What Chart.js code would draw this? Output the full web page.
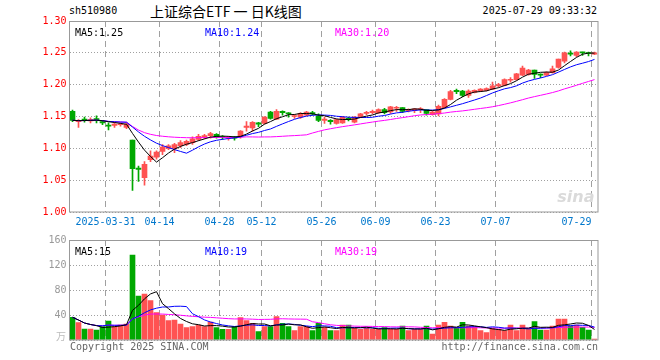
<!DOCTYPE html>
<html>
<head>
<meta charset="utf-8">
<script src="https://cdn.jsdelivr.net/npm/chart.js@4.4.1/dist/chart.umd.min.js"></script>
<style>
  body { margin: 0; background: #fff; width: 660px; height: 360px; overflow: hidden; position: relative; font-family: "DejaVu Sans Mono", monospace; }
  #kc { position: absolute; left: 0; top: 0; }
  #vc { position: absolute; left: 0; top: 230px; }
  .t { position: absolute; white-space: nowrap; color: #000; }
</style>
</head>
<body>
<div class="t" style="left:69px;top:5px;font-size:10px">sh510980</div>
<div class="t" style="left:150px;top:1px;font:14px 'Noto Sans CJK SC'">上证综合ETF 一 日K线图</div>
<div class="t" style="right:63px;top:5px;font-size:10px">2025-07-29 09:33:32</div>
<canvas id="kc" width="660" height="236"></canvas>
<canvas id="vc" width="660" height="130"></canvas>
<script>
const year = '2025'
const dates = [
  '03-21','03-24','03-25','03-26','03-27','03-28','03-31',
  '04-01','04-02','04-03','04-07','04-08','04-09','04-10','04-11',
  '04-14','04-15','04-16','04-17','04-18','04-21','04-22','04-23','04-24','04-25',
  '04-28','04-29','04-30',
  '05-06','05-07','05-08','05-09','05-12','05-13','05-14','05-15','05-16',
  '05-19','05-20','05-21','05-22','05-23','05-26','05-27','05-28','05-29','05-30',
  '06-03','06-04','06-05','06-06','06-09','06-10','06-11','06-12','06-13',
  '06-16','06-17','06-18','06-19','06-20','06-23','06-24','06-25','06-26','06-27','06-30',
  '07-01','07-02','07-03','07-04','07-07','07-08','07-09','07-10','07-11',
  '07-14','07-15','07-16','07-17','07-18','07-21','07-22','07-23','07-24','07-25',
  '07-28','07-29'
]
const tickDates = ['03-31','04-14','04-28','05-12','05-26','06-09','06-23','07-07','07-29']

const opens = [
  1.158,1.142,1.146,1.143,1.146,1.142,1.136,1.136,1.137,1.133,
  1.113,1.069,1.054,1.082,1.086,1.095,1.100,1.100,1.104,1.106,
  1.109,1.114,1.118,1.120,1.122,1.118,1.116,1.117,1.119,1.133,
  1.132,1.140,1.139,1.157,1.146,1.158,1.155,1.150,1.149,1.152,
  1.156,1.151,1.144,1.144,1.139,1.140,1.147,1.141,1.150,1.155,
  1.156,1.156,1.161,1.157,1.163,1.164,1.159,1.159,1.161,1.161,
  1.153,1.154,1.164,1.177,1.191,1.190,1.183,1.188,1.190,1.191,
  1.193,1.198,1.199,1.207,1.208,1.215,1.216,1.223,1.216,1.215,
  1.219,1.227,1.237,1.249,1.246,1.251,1.250,1.248
]
const highs = [
  1.160,1.145,1.149,1.148,1.151,1.144,1.140,1.141,1.140,1.140,
  1.113,1.072,1.079,1.096,1.096,1.106,1.106,1.108,1.112,1.113,
  1.118,1.122,1.122,1.125,1.123,1.120,1.119,1.119,1.128,1.142,
  1.142,1.141,1.150,1.158,1.161,1.159,1.156,1.153,1.156,1.158,
  1.158,1.154,1.149,1.145,1.146,1.150,1.149,1.150,1.155,1.158,
  1.160,1.162,1.163,1.166,1.166,1.164,1.162,1.163,1.164,1.161,
  1.158,1.168,1.178,1.191,1.193,1.191,1.192,1.192,1.194,1.195,
  1.204,1.202,1.209,1.211,1.218,1.229,1.224,1.223,1.217,1.220,
  1.229,1.240,1.251,1.253,1.252,1.251,1.251,1.251
]
const lows = [
  1.142,1.133,1.141,1.140,1.140,1.137,1.129,1.133,1.135,1.131,
  1.034,1.048,1.042,1.079,1.083,1.090,1.098,1.093,1.101,1.104,
  1.106,1.112,1.115,1.116,1.116,1.114,1.113,1.113,1.116,1.127,
  1.127,1.134,1.138,1.146,1.145,1.152,1.149,1.147,1.147,1.151,
  1.152,1.142,1.139,1.138,1.138,1.139,1.143,1.140,1.148,1.153,
  1.154,1.155,1.154,1.155,1.158,1.156,1.157,1.156,1.156,1.152,
  1.152,1.151,1.163,1.176,1.186,1.181,1.180,1.187,1.189,1.190,
  1.192,1.196,1.198,1.204,1.207,1.214,1.215,1.210,1.211,1.214,
  1.218,1.226,1.234,1.245,1.244,1.246,1.245,1.247
]
const closes = [
  1.144,1.143,1.144,1.145,1.145,1.140,1.135,1.138,1.138,1.138,
  1.068,1.067,1.075,1.088,1.094,1.102,1.104,1.106,1.109,1.111,
  1.115,1.119,1.120,1.123,1.117,1.117,1.117,1.116,1.127,1.135,
  1.141,1.138,1.149,1.147,1.158,1.156,1.154,1.151,1.155,1.157,
  1.154,1.144,1.146,1.142,1.145,1.149,1.145,1.149,1.154,1.156,
  1.158,1.161,1.156,1.165,1.164,1.158,1.161,1.162,1.162,1.155,
  1.157,1.166,1.177,1.189,1.189,1.183,1.190,1.191,1.193,1.194,
  1.198,1.200,1.208,1.208,1.217,1.226,1.223,1.216,1.215,1.219,
  1.225,1.240,1.250,1.248,1.251,1.250,1.249,1.250
]
// 成交量 (万)
const volumes = [
  36.3,27.7,17.6,17.6,16.0,21.3,30.4,21.3,24.0,25.6,
  136,70.4,73.6,62.9,43.7,40.0,30.9,32.0,25.6,19.7,
  21.3,24.0,21.3,28.8,19.7,17.1,17.1,21.3,35.7,30.9,
  26.7,13.3,21.3,21.3,37.3,26.7,21.3,14.9,21.3,21.3,
  14.9,26.7,20.3,14.9,14.9,24.0,24.0,18.7,17.1,18.7,
  17.1,17.1,19.7,17.1,17.1,22.4,14.9,17.1,17.1,22.4,
  9.6,24.0,28.3,22.4,18.7,28.3,22.4,21.3,14.9,11.7,
  18.7,17.1,14.9,24.0,14.9,24.0,17.1,29.3,16.0,16.0,
  22.4,33.6,33.6,22.4,24.0,20.3,16.0,1.6
]
const maLegend = ['MA5:1.25', 'MA10:1.24', 'MA30:1.20']
const volLegend = ['MA5:15', 'MA10:19', 'MA30:19']

const RED = '#ff5252', GREEN = '#00a800'
const MA_COLORS = ['#000000', '#0000ff', '#ff00ff']
const MONO = 'DejaVu Sans Mono'

const movingAvg = (arr, n) => arr.map((_, i) => {
  const s = arr.slice(Math.max(0, i - n + 1), i + 1)
  return s.reduce((a, b) => a + b, 0) / s.length
})
const barColors = closes.map((c, i) => c >= opens[i] ? RED : GREEN)
const tickIdx = tickDates.map(d => dates.indexOf(d))

const maSets = (arr) => [5, 10, 30].map((n, k) => ({
  type: 'line', data: movingAvg(arr, n), borderColor: MA_COLORS[k], borderWidth: 1,
  pointRadius: 0, tension: 0, order: 1
}))

const xGrid = {
  offset: true,
  drawTicks: false,
  color: c => tickIdx.includes(c.index) ? '#a0a0a0' : 'rgba(0,0,0,0)'
}

// frame + legend text
const panelText = (legend, extra) => ({
  id: 'panelText',
  afterDraw(chart) {
    const { ctx, chartArea: a } = chart
    ctx.save()
    ctx.strokeStyle = '#999'
    ctx.lineWidth = 1
    const l = Math.floor(a.left) + 0.5, t = Math.floor(a.top) + 0.5
    ctx.strokeRect(l, t, Math.round(a.right) - l, Math.round(a.bottom) - t)
    ctx.font = '10px "' + MONO + '"'
    ctx.textBaseline = 'middle'
    const xs = [75, 205, 335]
    legend.forEach((s, k) => {
      ctx.fillStyle = MA_COLORS[k]
      ctx.fillText(s, xs[k], a.top + 12)
    })
    if (extra) extra(ctx, a)
    ctx.restore()
  }
})

new Chart(document.getElementById('kc'), {
  data: {
    labels: dates,
    datasets: [
      ...maSets(closes),
      { type: 'bar', data: opens.map((o, i) => [o, closes[i]]), backgroundColor: barColors,
        barThickness: 5, minBarLength: 1, grouped: false, order: 2 },
      { type: 'bar', data: lows.map((l, i) => [l, highs[i]]), backgroundColor: barColors,
        barThickness: 1, grouped: false, order: 3 }
    ]
  },
  options: {
    responsive: false,
    animation: false,
    layout: { padding: { top: 21, right: 62.5, left: 0, bottom: 0 } },
    plugins: { legend: { display: false }, tooltip: { enabled: false } },
    scales: {
      x: {
        offset: true,
        grid: xGrid,
        border: { display: false, dash: [6, 4] },
        ticks: {
          autoSkip: false, maxRotation: 0, padding: 4, labelOffset: -3, align: 'inner',
          color: '#0077cc', font: { family: MONO, size: 10 },
          callback: (v, i) => {
            const k = tickDates.indexOf(dates[i])
            if (k < 0) return ''
            return k === 0 ? year + '-' + dates[i] : dates[i]
          }
        },
        afterFit: s => { s.height = 24 }
      },
      y: {
        min: 1.0, max: 1.3,
        grid: { color: '#a0a0a0', drawTicks: false },
        border: { display: false, dash: [1, 2] },
        ticks: { stepSize: 0.05, padding: 3, color: '#ff0000', font: { family: MONO, size: 10 },
          callback: v => v.toFixed(2) },
        afterFit: s => { s.width = 69.5 }
      }
    }
  },
  plugins: [panelText(maLegend, (ctx, a) => {
    ctx.font = 'italic bold 16px "DejaVu Sans"'
    ctx.fillStyle = '#dadada'
    ctx.textAlign = 'right'
    ctx.fillText('sina', a.right - 3, a.bottom - 14)
  })]
})

new Chart(document.getElementById('vc'), {
  data: {
    labels: dates,
    datasets: [
      ...maSets(volumes),
      { type: 'bar', data: volumes, backgroundColor: barColors, barThickness: 5, grouped: false, order: 2 }
    ]
  },
  options: {
    responsive: false,
    animation: false,
    layout: { padding: { top: 10, right: 62.5, left: 0, bottom: 0 } },
    plugins: { legend: { display: false }, tooltip: { enabled: false } },
    scales: {
      x: {
        offset: true,
        grid: xGrid,
        border: { display: false, dash: [6, 4] },
        ticks: { display: false },
        afterFit: s => { s.height = 20 }
      },
      y: {
        min: 0, max: 160,
        grid: { color: '#a0a0a0', drawTicks: false },
        border: { display: false, dash: [1, 2] },
        ticks: { stepSize: 40, padding: 3, color: '#999', font: { family: MONO, size: 10 },
          callback: v => v === 0 ? '' : v },
        afterFit: s => { s.width = 69.5 }
      }
    }
  },
  plugins: [panelText(volLegend, (ctx, a) => {
    ctx.fillStyle = '#666'
    ctx.fillText('Copyright 2025 SINA.COM', 70, a.bottom + 7)
    ctx.textAlign = 'right'
    ctx.fillText('http://finance.sina.com.cn', 598, a.bottom + 7)
    ctx.fillStyle = '#bbb'
    ctx.font = '10px "Noto Sans CJK SC"'
    ctx.fillText('万', 66, a.bottom - 4)
  })]
})
</script>
</body>
</html>
